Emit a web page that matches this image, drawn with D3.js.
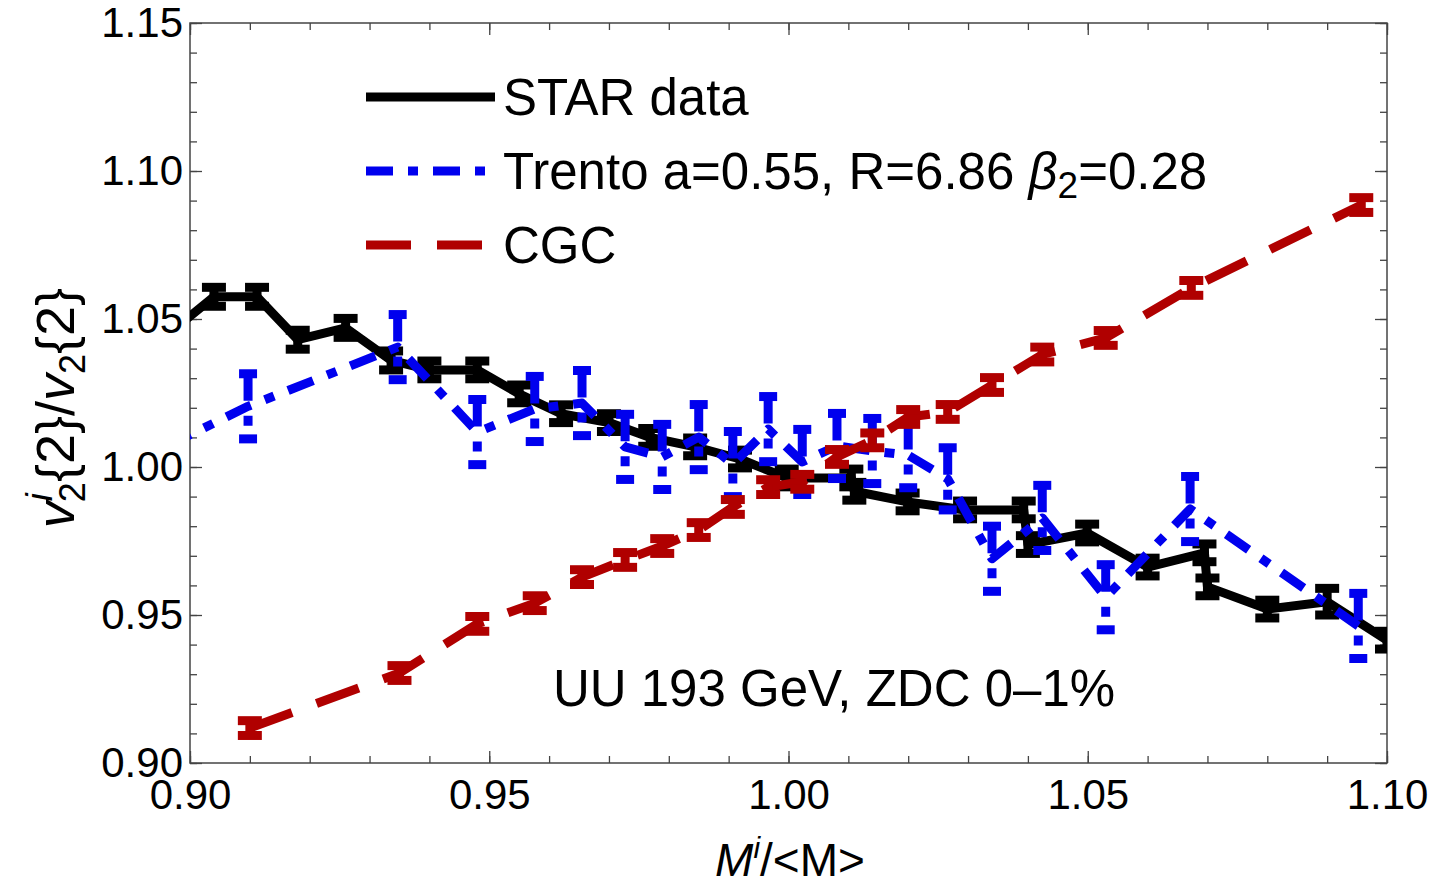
<!DOCTYPE html>
<html>
<head>
<meta charset="utf-8">
<script src="https://cdn.jsdelivr.net/npm/d3@7"></script>
<style>
  body { margin: 0; background: #fff; }
  text { font-family: "Liberation Sans", Arial, sans-serif; fill: #000; }
</style>
</head>
<body>
<svg id="chart" width="1435" height="887"></svg>
<script>
// STAR data
const starX = [0.897, 0.904, 0.9112, 0.918, 0.926, 0.9336, 0.940, 0.948, 0.955, 0.962, 0.970, 0.9769, 0.9844, 0.9919, 0.9997, 1.0105, 1.0110, 1.0199, 1.0295, 1.0393, 1.0400, 1.0499, 1.0600, 1.0695, 1.0700, 1.0800, 1.0900, 1.1000];
const starY = [1.046, 1.0575, 1.0575, 1.0430, 1.0470, 1.0360, 1.0328, 1.0328, 1.0247, 1.0180, 1.0150, 1.0100, 1.0068, 1.0027, 0.9963, 0.9963, 0.9918, 0.9882, 0.9855, 0.9855, 0.9738, 0.9777, 0.9662, 0.9710, 0.9595, 0.9520, 0.9545, 0.9415];
const starErr = [0.0032, 0.0032, 0.0032, 0.0032, 0.0032, 0.0032, 0.003, 0.003, 0.003, 0.003, 0.003, 0.003, 0.003, 0.003, 0.003, 0.003, 0.003, 0.003, 0.003, 0.003, 0.003, 0.003, 0.003, 0.003, 0.003, 0.003, 0.0045, 0.003];

// Trento a=0.55, R=6.86, beta2=0.28
const trentoX = [0.886, 0.9097, 0.9347, 0.948, 0.9576, 0.9655, 0.9727, 0.9789, 0.985, 0.9907, 0.9966, 1.0023, 1.0081, 1.014, 1.020, 1.0266, 1.034, 1.0424, 1.053, 1.0671, 1.0952];
const trentoY = [0.997, 1.0205, 1.0405, 1.0118, 1.0196, 1.0216, 1.0068, 1.0034, 1.0101, 1.0010, 1.0128, 1.0017, 1.0071, 1.0054, 1.0040, 0.9960, 0.9690, 0.9828, 0.9560, 0.9858, 0.9463];
const trentoErr = [0.011, 0.011, 0.011, 0.011, 0.011, 0.011, 0.011, 0.011, 0.011, 0.011, 0.011, 0.011, 0.011, 0.011, 0.011, 0.0105, 0.011, 0.011, 0.011, 0.011, 0.011];

// CGC
const cgcX = [0.910, 0.935, 0.948, 0.9576, 0.9655, 0.9727, 0.9789, 0.985, 0.9907, 0.9966, 1.0023, 1.0081, 1.014, 1.020, 1.0266, 1.034, 1.0424, 1.053, 1.0673, 1.0957];
const cgcY = [0.9118, 0.9304, 0.9470, 0.9540, 0.9628, 0.9686, 0.9733, 0.9787, 0.9865, 0.9932, 0.9950, 1.0034, 1.0090, 1.0169, 1.0186, 1.0277, 1.0380, 1.0436, 1.0605, 1.0885];
const cgcErr = [0.0025, 0.0025, 0.0025, 0.0025, 0.0025, 0.0025, 0.0025, 0.0025, 0.0025, 0.0025, 0.0025, 0.0025, 0.0025, 0.0025, 0.0025, 0.0025, 0.0025, 0.0025, 0.0025, 0.0025];

const xMajor = [0.90, 0.95, 1.00, 1.05, 1.10];
const yMajor = [0.90, 0.95, 1.00, 1.05, 1.10, 1.15];

const svg = d3.select("#chart");
const margin = { top: 23, right: 48, bottom: 124, left: 190 };
const innerWidth = 1435 - margin.left - margin.right;
const innerHeight = 887 - margin.top - margin.bottom;

const g = svg.append("g").attr("transform", `translate(${margin.left},${margin.top})`);

const x = d3.scaleLinear().domain([0.9, 1.1]).range([0, innerWidth]);
const y = d3.scaleLinear().domain([0.9, 1.15]).range([innerHeight, 0]);

const xMinor = d3.range(90, 111).map(d => d / 100);
const yMinor = d3.range(90, 116).map(d => d / 100);

// frame
g.append("rect")
  .attr("width", innerWidth).attr("height", innerHeight)
  .attr("fill", "none").attr("stroke", "#444").attr("stroke-width", 1.5);

// ticks (inward, on all four sides)
function styleAxis(sel) {
  sel.select(".domain").remove();
  sel.selectAll("line").attr("stroke", "#444").attr("stroke-width", 1.3);
  sel.selectAll("text").style("font-size", "42px").attr("fill", "#000");
}
function bareAxis(sel) {
  styleAxis(sel);
  sel.selectAll("text").remove();
}
g.append("g").attr("transform", `translate(0,${innerHeight})`)
  .call(d3.axisBottom(x).tickValues(xMinor).tickSize(-7)).call(bareAxis);
g.append("g").attr("transform", `translate(0,${innerHeight})`)
  .call(d3.axisBottom(x).tickValues(xMajor).tickSize(-12).tickPadding(16).tickFormat(d3.format(".2f"))).call(styleAxis);
g.append("g")
  .call(d3.axisTop(x).tickValues(xMinor).tickSize(-7)).call(bareAxis);
g.append("g")
  .call(d3.axisTop(x).tickValues(xMajor).tickSize(-12)).call(bareAxis);
g.append("g")
  .call(d3.axisLeft(y).tickValues(yMinor).tickSize(-7)).call(bareAxis);
g.append("g")
  .call(d3.axisLeft(y).tickValues(yMajor).tickSize(-12).tickPadding(7).tickFormat(d3.format(".2f"))).call(styleAxis);
g.append("g").attr("transform", `translate(${innerWidth},0)`)
  .call(d3.axisRight(y).tickValues(yMinor).tickSize(-7)).call(bareAxis);
g.append("g").attr("transform", `translate(${innerWidth},0)`)
  .call(d3.axisRight(y).tickValues(yMajor).tickSize(-12)).call(bareAxis);

// clip for data
svg.append("defs").append("clipPath").attr("id", "plotClip")
  .append("rect").attr("width", innerWidth).attr("height", innerHeight);
const plot = g.append("g").attr("clip-path", "url(#plotClip)");

const line = d3.line().x(d => x(d.x)).y(d => y(d.y));

function drawSeries(xs, ys, es, color, dash, capW) {
  const data = xs.map((v, i) => ({ x: v, y: ys[i], e: es[i] }));
  const s = plot.append("g");
  s.append("path").datum(data)
    .attr("d", line)
    .attr("fill", "none")
    .attr("stroke", color)
    .attr("stroke-width", 9)
    .attr("stroke-linejoin", "round")
    .attr("stroke-dasharray", dash);
  const bars = s.selectAll(".eb").data(data).join("g");
  bars.append("line")
    .attr("x1", d => x(d.x)).attr("x2", d => x(d.x))
    .attr("y1", d => y(d.y + d.e)).attr("y2", d => y(d.y - d.e))
    .attr("stroke", color).attr("stroke-width", 9)
    .attr("stroke-dasharray", dash);
  bars.append("line")
    .attr("x1", d => x(d.x) - capW / 2).attr("x2", d => x(d.x) + capW / 2)
    .attr("y1", d => y(d.y + d.e)).attr("y2", d => y(d.y + d.e))
    .attr("stroke", color).attr("stroke-width", 9);
  bars.append("line")
    .attr("x1", d => x(d.x) - capW / 2).attr("x2", d => x(d.x) + capW / 2)
    .attr("y1", d => y(d.y - d.e)).attr("y2", d => y(d.y - d.e))
    .attr("stroke", color).attr("stroke-width", 9);
}

const starColor = "#000000", trentoColor = "#0000ee", cgcColor = "#b00000";
const trentoDash = "27,15,10,15", cgcDash = "45,26";

drawSeries(starX, starY, starErr, starColor, null, 24);
drawSeries(trentoX, trentoY, trentoErr, trentoColor, trentoDash, 18);
drawSeries(cgcX, cgcY, cgcErr, cgcColor, cgcDash, 24);

// legend
const legend = [
  { color: starColor, dash: null, y: 97 },
  { color: trentoColor, dash: trentoDash, y: 171 },
  { color: cgcColor, dash: cgcDash, y: 245 }
];
legend.forEach(d => {
  svg.append("line")
    .attr("x1", 366).attr("x2", 495).attr("y1", d.y).attr("y2", d.y)
    .attr("stroke", d.color).attr("stroke-width", 9)
    .attr("stroke-dasharray", d.dash);
});
svg.append("text").attr("x", 503).attr("y", 115).style("font-size", "51px").text("STAR data");
const t2 = svg.append("text").attr("x", 503).attr("y", 189).style("font-size", "51px");
t2.append("tspan").text("Trento a=0.55, R=6.86 ");
t2.append("tspan").style("font-style", "italic").text("β");
t2.append("tspan").attr("dy", 9).style("font-size", "37px").text("2");
t2.append("tspan").attr("dy", -9).text("=0.28");
svg.append("text").attr("x", 503).attr("y", 263).style("font-size", "51px").text("CGC");

// annotation
svg.append("text").attr("x", 834).attr("y", 706).attr("text-anchor", "middle")
  .style("font-size", "51px").text("UU 193 GeV, ZDC 0\u20131%");

// axis titles
const xl = svg.append("text").attr("x", 790).attr("y", 876).attr("text-anchor", "middle").style("font-size", "46px");
xl.append("tspan").style("font-style", "italic").text("M");
xl.append("tspan").attr("dy", -18).style("font-size", "30px").style("font-style", "italic").text("i");
xl.append("tspan").attr("dy", 18).text("/<M>");

const yl = svg.append("text").attr("transform", "translate(74,408) rotate(-90)").attr("text-anchor", "middle").style("font-size", "54px");
yl.append("tspan").style("font-style", "italic").text("v");
yl.append("tspan").attr("dy", -22).style("font-size", "36px").style("font-style", "italic").text("i");
yl.append("tspan").attr("dx", -9).attr("dy", 33).style("font-size", "36px").text("2");
yl.append("tspan").attr("dy", -11).text("{2}/");
yl.append("tspan").style("font-style", "italic").text("v");
yl.append("tspan").attr("dy", 11).style("font-size", "36px").text("2");
yl.append("tspan").attr("dy", -11).text("{2}");
</script>
</body>
</html>
